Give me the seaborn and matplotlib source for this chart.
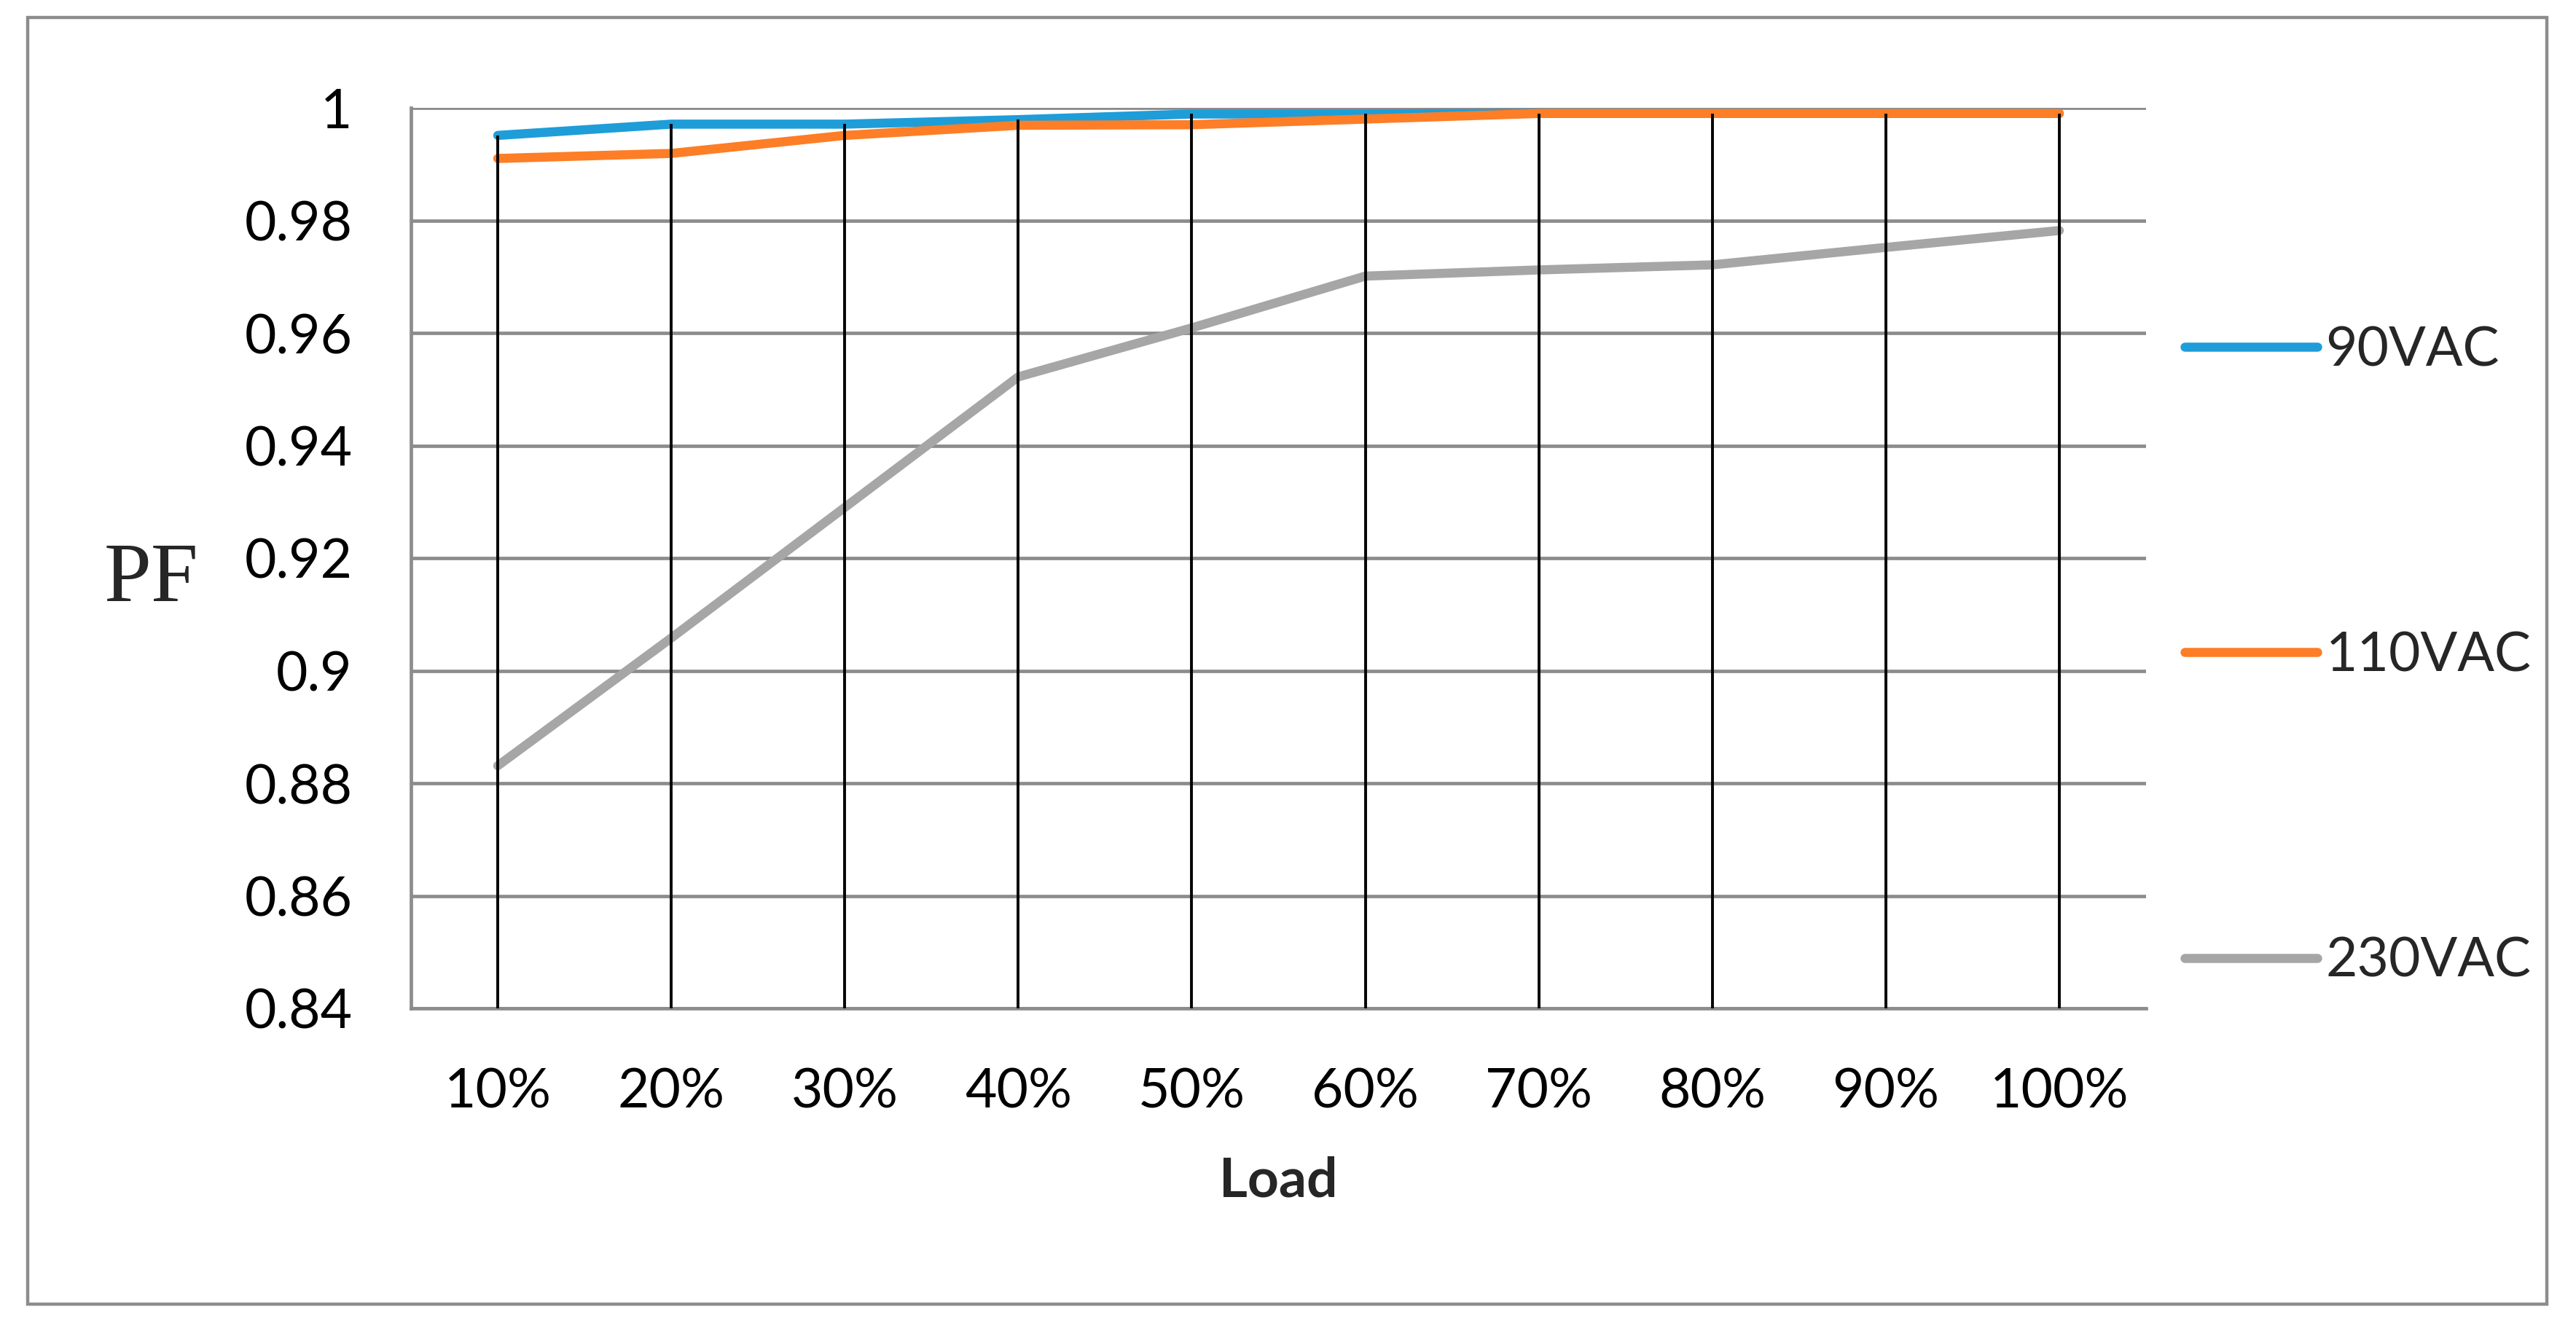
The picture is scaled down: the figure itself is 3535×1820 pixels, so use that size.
import numpy as np
import pandas as pd
import matplotlib
matplotlib.use("Agg")
import matplotlib.pyplot as plt
import seaborn as sns
from matplotlib.patches import Rectangle

# ---- data ----
loads = ["10%", "20%", "30%", "40%", "50%", "60%", "70%", "80%", "90%", "100%"]
pf_90 = [0.9951, 0.9971, 0.9971, 0.9979, 0.9989, 0.9989, 0.9990, 0.9990, 0.9990, 0.9990]
pf_110 = [0.9910, 0.9919, 0.9951, 0.9969, 0.9970, 0.9980, 0.9990, 0.9990, 0.9990, 0.9990]
pf_230 = [0.8831, 0.9058, 0.9290, 0.9522, 0.9609, 0.9701, 0.9712, 0.9721, 0.9752, 0.9782]
series_names = ["90VAC", "110VAC", "230VAC"]
series_colors = ["#1e9dd9", "#fd7e26", "#a6a6a6"]
y_ticks = [0.84, 0.86, 0.88, 0.90, 0.92, 0.94, 0.96, 0.98, 1.00]
y_tick_labels = ["0.84", "0.86", "0.88", "0.9", "0.92", "0.94", "0.96", "0.98", "1"]

df = pd.DataFrame({
    "Load": loads * 3,
    "PF": pf_90 + pf_110 + pf_230,
    "Series": [series_names[0]] * len(loads) + [series_names[1]] * len(loads) + [series_names[2]] * len(loads),
})

sns.set_style("white")
plt.rcParams["font.family"] = ["Lato", "DejaVu Sans"]

W, H = 3535, 1820
fig = plt.figure(figsize=(W / 100, H / 100), dpi=100)
fig.patch.set_facecolor("white")

left, right, top, bottom = 564, 2945, 148, 1384
ax = fig.add_axes([left / W, 1 - bottom / H, (right - left) / W, (bottom - top) / H])

grid_col = "#8c8c8c"

sns.lineplot(data=df, x="Load", y="PF", hue="Series", palette=dict(zip(series_names, series_colors)),
             hue_order=series_names, sort=False, linewidth=9.0, legend=False, ax=ax, zorder=3)
for ln in ax.get_lines():
    ln.set_solid_capstyle("round")
    ln.set_solid_joinstyle("round")

ax.set_xlim(-0.5, len(loads) - 0.5)
ax.set_ylim(0.84, 1.0)

# drop lines from the highest series value down to the axis
xs = np.arange(len(loads))
top_vals = np.max(np.vstack([pf_90, pf_110, pf_230]), axis=0)
ax.vlines(xs, 0.84, top_vals, colors="black", linewidth=2.8, zorder=4)

ax.set_yticks(y_ticks)
ax.set_yticklabels(y_tick_labels)
ax.set_xticks(xs)
ax.set_xticklabels(loads)
ax.tick_params(axis="both", length=0, labelsize=54, colors="black")
ax.tick_params(axis="y", pad=58)
ax.tick_params(axis="x", pad=58)

ax.grid(axis="y", color=grid_col, linewidth=3.4, zorder=1)
ax.grid(axis="x", visible=False)
ax.set_axisbelow(True)
for s in ["top", "right"]:
    ax.spines[s].set_visible(False)
for s in ["left", "bottom"]:
    ax.spines[s].set_color(grid_col)
    ax.spines[s].set_linewidth(3.4)

ax.set_xlabel("")
ax.set_ylabel("")

fig.text(1754 / W, 1 - 1621 / H, "Load", ha="center", va="center", fontsize=54, fontweight="bold")
fig.text(208 / W, 1 - 797 / H, "PF", ha="center", va="center", fontsize=84,
         family=["Liberation Serif", "DejaVu Serif"])

handles = ax.get_lines()[:3]
leg = fig.legend(handles, series_names, loc="center left", bbox_to_anchor=(2998 / W, 1 - 900 / H),
                 frameon=False, fontsize=54, handlelength=2.43, handletextpad=0.15,
                 labelspacing=4.67, borderpad=0, borderaxespad=0)
for lh in leg.get_lines():
    lh.set_linewidth(9.0)
    lh.set_solid_capstyle("round")

# outer frame
fig.patches.append(Rectangle((38 / W, 1 - 1790 / H), (3495 - 38) / W, (1790 - 24) / H,
                             transform=fig.transFigure, fill=False, edgecolor=grid_col,
                             linewidth=3.2))

fig.savefig("out.png", dpi=100, facecolor="white")
